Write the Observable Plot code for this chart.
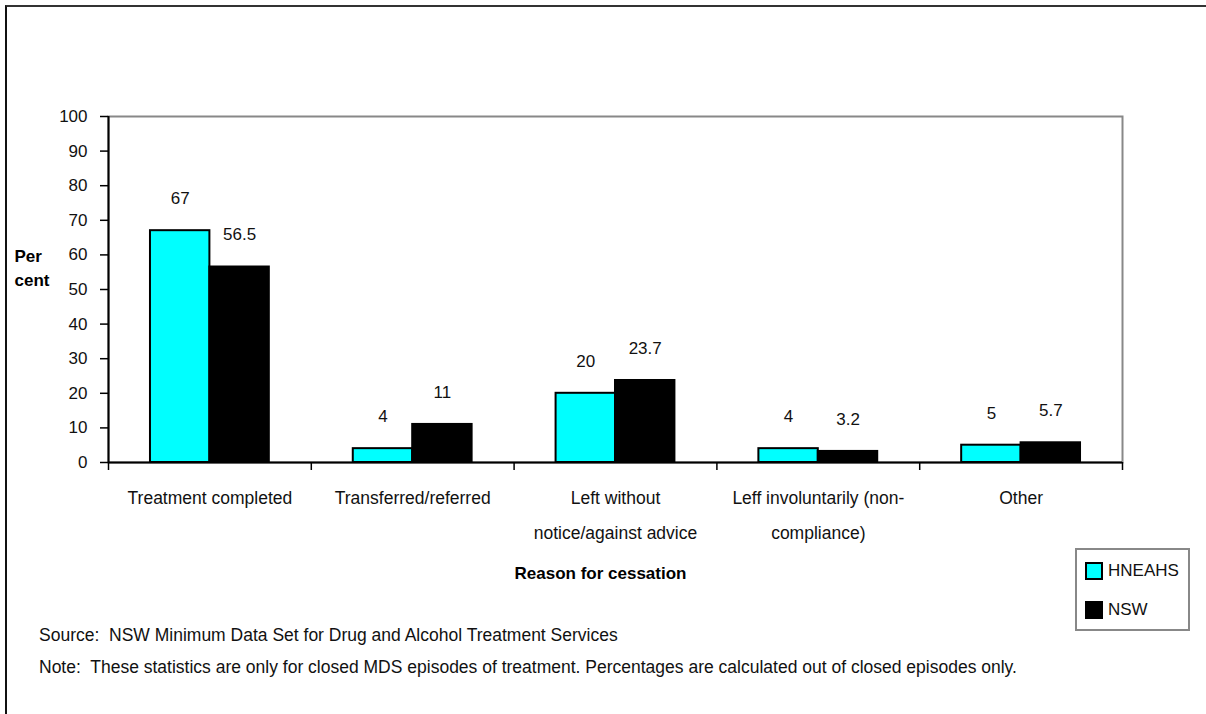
<!DOCTYPE html>
<html>
<head>
<meta charset="utf-8">
<script src="https://cdn.jsdelivr.net/npm/d3@7"></script>
<script src="https://cdn.jsdelivr.net/npm/@observablehq/plot@0.6"></script>
<style>
  html, body { margin: 0; padding: 0; background: #fff; }
  body { font-family: "Liberation Sans", Arial, sans-serif; }
  #page { position: relative; width: 1206px; height: 714px; overflow: hidden; background: #fff; }
  #border { position: absolute; left: 5px; top: 5px; width: 1300px; height: 800px;
            border-top: 2px solid #333; border-left: 2px solid #111; }
  #chart { position: absolute; left: 0; top: 0; }
  .note { position: absolute; left: 39px; font-size: 17.5px; color: #111; white-space: pre; }
  #legend { position: absolute; left: 1075px; top: 548px; width: 111px; height: 79px;
            border: 2px solid #888; box-sizing: content-box; }
  .li { position: absolute; left: 8px; display: flex; align-items: center; font-size: 17px; color: #111; }
  .sw { width: 14px; height: 14px; border: 2px solid #000; margin-right: 5px; }
</style>
</head>
<body>
<div id="page">
  <div id="border"></div>
  <div id="chart"></div>
  <div class="note" id="source" style="top:625px"></div>
  <div class="note" id="note" style="top:657px"></div>
  <div id="legend"></div>
</div>
<script>
// ---- data ----
const categories = [
  "Treatment completed",
  "Transferred/referred",
  "Left without\nnotice/against advice",
  "Leff involuntarily (non-\ncompliance)",
  "Other"
];
const seriesNames = ["HNEAHS", "NSW"];
const hneahs = [67, 4, 20, 4, 5];
const nsw = [56.5, 11, 23.7, 3.2, 5.7];
const yTicks = [0, 10, 20, 30, 40, 50, 60, 70, 80, 90, 100];
const yLabel = "Per\ncent";
const xLabel = "Reason for cessation";
const sourceText = "Source:  NSW Minimum Data Set for Drug and Alcohol Treatment Services";
const noteText = "Note:  These statistics are only for closed MDS episodes of treatment. Percentages are calculated out of closed episodes only.";
const colors = ["#00FFFF", "#000000"];

// ---- build ----
const rows = [];
categories.forEach((c, i) => {
  rows.push({i, series: seriesNames[0], value: hneahs[i], off: 0});
  rows.push({i, series: seriesNames[1], value: nsw[i], off: 1});
});
const barW = 0.293;
const x1 = d => d.i + 0.5 - barW + d.off * barW;
const x2 = d => x1(d) + barW;

const plot = Plot.plot({
  width: 1206,
  height: 600,
  marginLeft: 108,
  marginRight: 84,
  marginTop: 116,
  marginBottom: 138,
  style: {fontFamily: "Liberation Sans, Arial, sans-serif", fontSize: "17px", color: "#111", background: "transparent"},
  x: {domain: [0, categories.length], axis: null},
  y: {domain: [0, 100], axis: null},
  color: {domain: seriesNames, range: colors},
  marks: [
    Plot.frame({stroke: "#888", strokeWidth: 2}),
    Plot.rectY(rows, {x1, x2, y1: 0, y2: "value", fill: "series", stroke: "#000", strokeWidth: 2}),
    Plot.ruleY([0], {stroke: "#000", strokeWidth: 2}),
    Plot.ruleX([0], {stroke: "#000", strokeWidth: 2}),
    Plot.axisY({ticks: yTicks, tickSize: 8, tickPadding: 13, fontSize: 17, label: null, stroke: "#000", strokeWidth: 1.5}),
    Plot.axisX({ticks: d3.range(categories.length + 1), tickSize: 8, tickFormat: () => "", label: null, stroke: "#000", strokeWidth: 1.5}),
    Plot.text(categories, {x: (d, i) => i + 0.5, frameAnchor: "bottom", lineAnchor: "top", dy: 17, lineHeight: 2.0, fontSize: 17.5, fill: "#111"}),
    Plot.text(rows, {x: d => (x1(d) + x2(d)) / 2, y: "value", text: d => String(d.value), dy: -32, fontSize: 17, fill: "#111"}),
    Plot.text([xLabel], {frameAnchor: "bottom", dy: 116, dx: -15, fontWeight: "bold", fontSize: 17, fill: "#000"}),
    Plot.text([yLabel], {frameAnchor: "left", dx: -94, dy: -23, textAnchor: "start", fontWeight: "bold", fontSize: 17, lineHeight: 1.4, fill: "#000"})
  ]
});
document.getElementById("chart").appendChild(plot);

document.getElementById("source").textContent = sourceText;
document.getElementById("note").textContent = noteText;

const legend = document.getElementById("legend");
seriesNames.forEach((s, k) => {
  const item = document.createElement("div");
  item.className = "li";
  item.style.top = (11 + k * 39) + "px";
  const sw = document.createElement("div");
  sw.className = "sw";
  sw.style.background = colors[k];
  const t = document.createElement("span");
  t.textContent = s;
  item.appendChild(sw);
  item.appendChild(t);
  legend.appendChild(item);
});
</script>
</body>
</html>
